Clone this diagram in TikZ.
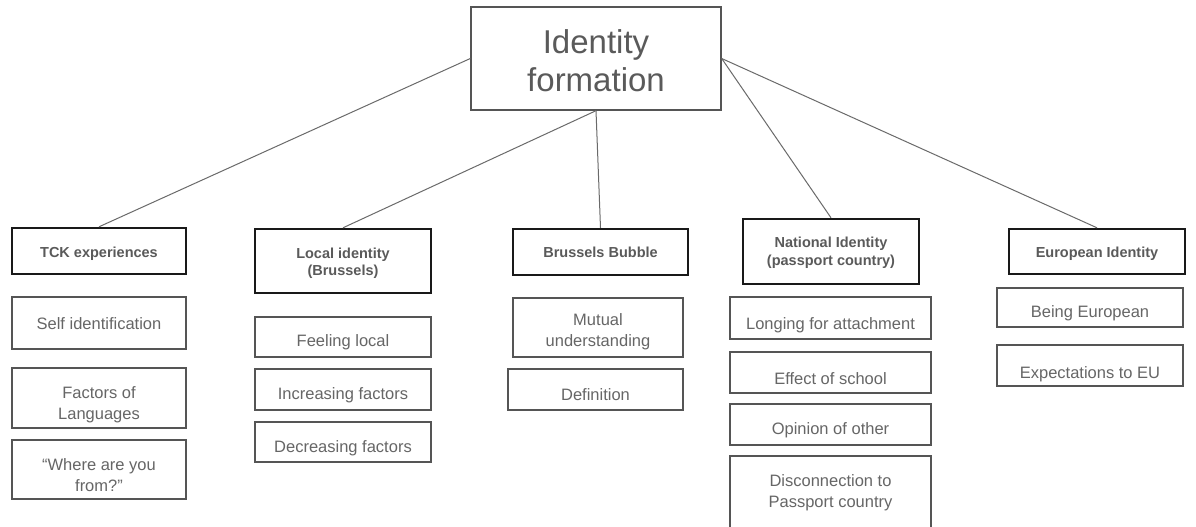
\documentclass[tikz,border=0pt]{standalone}
\usepackage{fontspec}
\setmainfont{Liberation Sans}
\usepackage{xcolor}
\usepackage{tikz}
\usetikzlibrary{positioning}

\definecolor{boxgray}{HTML}{555555}
\definecolor{txtgray}{HTML}{5A5A5A}
\definecolor{itemtxt}{HTML}{666666}
\definecolor{linkgray}{HTML}{6A6A6A}

\begin{document}
\begin{tikzpicture}[
    x=1pt, y=-1pt,
    root/.style={rectangle, draw=boxgray, line width=1.4pt, minimum width=250pt, minimum height=103pt, align=center, text=txtgray, font=\fontsize{33}{38.4}\selectfont, text depth=8pt},
    theme/.style={rectangle, draw=black!90, line width=2.4pt, minimum width=175pt, align=center, text=txtgray, font=\bfseries\fontsize{14.5}{17.5}\selectfont, text depth=4pt},
    item/.style={rectangle, draw=boxgray, line width=1.3pt, align=center, text=itemtxt, font=\fontsize{16.5}{21}\selectfont, text height=24pt, text depth=4pt},
    link/.style={draw=linkgray, line width=1pt}
]
\useasboundingbox[fill=white] (0,0) rectangle (1196,527);

\node[root, text height=74pt] (root) at (596,58.5) {Identity\\formation};

% themes
\node[theme, minimum width=174pt, minimum height=46pt, text height=17pt] (tck)      at (99,251)    {TCK experiences};
\node[theme, minimum width=176pt, minimum height=64pt, text height=33pt] (local)    at (343,261)   {Local identity\\(Brussels)};
\node[theme, minimum width=175pt, minimum height=46pt, text height=15pt] (bubble)   at (600.5,252) {Brussels Bubble};
\node[theme, minimum width=176pt, minimum height=65pt, text height=31pt] (national) at (831,251.5) {National Identity\\(passport country)};
\node[theme, minimum width=176pt, minimum height=45pt, text height=16pt] (european) at (1097,251.5) {European Identity};

\draw[link] (root.west)  -- (tck.north);
\draw[link] (root.south) -- (local.north);
\draw[link] (root.south) -- (bubble.north);
\draw[link] (root.east)  -- (national.north);
\draw[link] (root.east)  -- (european.north);

% TCK experiences
\node[item, minimum width=174pt, minimum height=52pt, text height=16pt] (selfid)  at (99,323)   {Self identification};
\node[item, minimum width=174pt, minimum height=60pt, text height=46pt] (langs)   at (99,398)   {Factors of\\Languages};
\node[item, minimum width=174pt, minimum height=59pt, text height=47pt] (where)   at (99,469.5) {``Where are you\\from?''};

% Local identity
\node[item, minimum width=176pt, minimum height=40pt, text height=23pt] (feel)    at (343,337)   {Feeling local};
\node[item, minimum width=176pt, minimum height=41pt, text height=23pt] (incr)    at (343,389.5) {Increasing factors};
\node[item, minimum width=176pt, minimum height=40pt, text height=25pt] (decr)    at (343,442)   {Decreasing factors};

% Brussels Bubble
\node[item, minimum width=170pt, minimum height=59pt, text height=42pt] (mutual)  at (598,327.5)   {Mutual\\understanding};
\node[item, minimum width=175pt, minimum height=41pt, text height=25pt] (defin)   at (595.5,389.5) {Definition};

% National Identity
\node[item, minimum width=201pt, minimum height=42pt, text height=26pt] (longing) at (830.5,318)   {Longing for attachment};
\node[item, minimum width=201pt, minimum height=41pt, text height=27pt] (school)  at (830.5,372.5) {Effect of school};
\node[item, minimum width=201pt, minimum height=41pt, text height=23pt] (opinion) at (830.5,424.5) {Opinion of other};
\node[item, minimum width=201pt, minimum height=84pt, text height=22pt] (disc)    at (830.5,498)   {Disconnection to\\Passport country};

% European Identity
\node[item, minimum width=186pt, minimum height=39pt] (being)   at (1090,307.5)  {Being European};
\node[item, minimum width=186pt, minimum height=41pt, text height=30pt] (expect)  at (1090,365.5)  {Expectations to EU};

\end{tikzpicture}
\end{document}
